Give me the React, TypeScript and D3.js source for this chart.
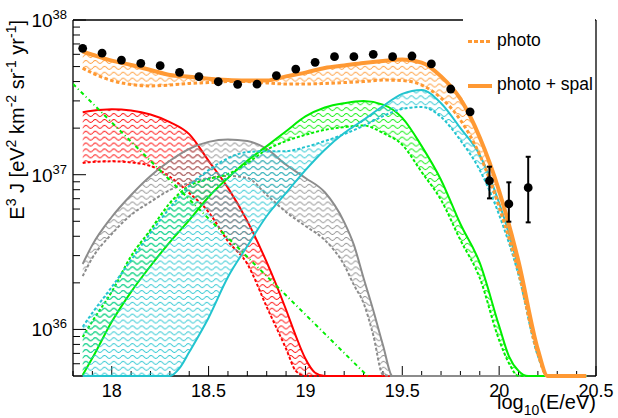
import React from "react";
import * as d3 from "d3";

// ---- measured spectrum: log10(E/eV), E^3 J and error-bar edges ----
const dataEnergy = [17.85, 17.95, 18.05, 18.15, 18.25, 18.35, 18.45, 18.55, 18.65, 18.75, 18.85, 18.95,
  19.05, 19.15, 19.25, 19.35, 19.45, 19.55, 19.65, 19.75, 19.85, 19.95, 20.05, 20.15];
const dataFlux = [6.56e37, 6.10e37, 5.51e37, 5.25e37, 5.07e37, 4.59e37, 4.31e37, 3.99e37, 3.84e37, 3.85e37,
  4.37e37, 4.82e37, 5.33e37, 5.79e37, 5.79e37, 6.00e37, 5.79e37, 5.85e37, 5.20e37, 3.58e37, 2.55e37,
  9.14e36, 6.47e36, 8.24e36];
const dataErrLow: (number | null)[] = [null, null, null, null, null, null, null, null, null, null, null, null,
  null, null, null, null, null, null, null, null, null, 7.03e36, 4.97e36, 4.92e36];
const dataErrHigh: (number | null)[] = [null, null, null, null, null, null, null, null, null, null, null, null,
  null, null, null, null, null, null, null, null, null, 1.127e37, 8.93e36, 1.306e37];

// ---- red group ----
const redEnergy = [17.85, 17.9, 18.0, 18.1, 18.2, 18.3, 18.4, 18.5, 18.6, 18.7, 18.8, 18.9, 18.95, 19.0, 19.05, 19.1, 19.5];
const redPhotoSpal = [2.53e37, 2.59e37, 2.65e37, 2.60e37, 2.45e37, 2.19e37, 1.83e37, 1.23e37, 8.22e36, 5.01e36,
  2.72e36, 1.34e36, 9.1e35, 6.46e35, 5.25e35, 3.98e35, 1e34];
const redPhoto = [1.19e37, 1.21e37, 1.22e37, 1.20e37, 1.14e37, 9.70e36, 7.62e36, 5.74e36, 3.72e36, 2.65e36,
  1.40e36, 7.50e35, 5.4e35, 4.0e35, 3.0e35, 2.0e35, 1e34];

// ---- gray group ----
const grayEnergy = [17.85, 17.9, 18.0, 18.1, 18.2, 18.3, 18.4, 18.5, 18.6, 18.7, 18.8, 18.9, 19.0, 19.1, 19.2,
  19.25, 19.3, 19.35, 19.4, 19.45, 19.5, 20.45];
const grayPhotoSpal = [2.65e36, 3.52e36, 5.33e36, 7.40e36, 9.82e36, 1.23e37, 1.47e37, 1.63e37, 1.69e37, 1.65e37,
  1.47e37, 1.16e37, 9.53e36, 7.7e36, 4.94e36, 3.52e36, 2.15e36, 1.33e36, 7.94e35, 5.0e35, 3e35, 1e34];
const grayPhoto = [2.21e36, 2.90e36, 4.14e36, 5.50e36, 6.67e36, 7.96e36, 8.84e36, 9.53e36, 9.82e36, 9.53e36,
  7.40e36, 5.74e36, 4.66e36, 3.78e36, 2.61e36, 1.94e36, 1.48e36, 9.2e35, 5.1e35, 3e35, 2e35, 1e34];

// ---- green group ----
const greenEnergy = [17.85, 17.9, 18.0, 18.1, 18.2, 18.3, 18.4, 18.5, 18.6, 18.7, 18.8, 18.9, 19.0, 19.1, 19.2,
  19.3, 19.4, 19.5, 19.6, 19.7, 19.8, 19.9, 20.0, 20.05, 20.1, 20.15, 20.45];
const greenPhotoSpal = [5.07e35, 6.53e35, 1.12e36, 1.75e36, 2.57e36, 3.67e36, 5.09e36, 7.18e36, 9.53e36, 1.23e37,
  1.53e37, 1.91e37, 2.38e37, 2.72e37, 2.90e37, 2.99e37, 2.84e37, 2.33e37, 1.53e37, 9.25e36, 4.80e36, 2.69e36,
  1.05e36, 6.73e35, 5.4e35, 4.0e35, 1e34];
const greenPhoto = [8.93e35, 1.13e36, 1.75e36, 2.98e36, 4.40e36, 6.56e36, 8.45e36, 9.38e36, 1.01e37, 1.19e37,
  1.45e37, 1.65e37, 1.81e37, 1.95e37, 2.03e37, 2.08e37, 1.86e37, 1.56e37, 1.04e37, 6.86e36, 3.78e36, 2.15e36,
  8.53e35, 6.07e35, 4.47e35, 3e35, 1e34];

// ---- cyan group ----
const cyanEnergy = [17.85, 17.9, 18.0, 18.1, 18.2, 18.3, 18.35, 18.4, 18.5, 18.6, 18.7, 18.8, 18.9, 19.0, 19.1,
  19.2, 19.3, 19.4, 19.5, 19.6, 19.7, 19.8, 19.9, 20.0, 20.1, 20.2, 20.25, 20.3, 20.45];
const cyanPhotoSpal = [1e35, 1e35, 1.2e35, 1.6e35, 2.5e35, 4.6e35, 5.62e35, 7.14e35, 1.19e36, 2.18e36, 3.46e36,
  5.41e36, 7.62e36, 1.07e37, 1.45e37, 1.86e37, 2.26e37, 2.78e37, 3.33e37, 3.53e37, 2.90e37, 2.00e37, 1.34e37,
  6.56e36, 2.49e36, 7.36e35, 4.7e35, 2.5e35, 1e34];
const cyanPhoto = [1.04e36, 1.28e36, 1.88e36, 2.81e36, 4.20e36, 6.10e36, 7.2e36, 8.45e36, 1.07e37, 1.28e37, 1.40e37,
  1.42e37, 1.42e37, 1.51e37, 1.65e37, 1.83e37, 2.07e37, 2.39e37, 2.66e37, 2.74e37, 2.36e37, 1.67e37, 1.07e37,
  5.50e36, 2.25e36, 6.73e35, 4.0e35, 2.5e35, 1e34];

// ---- total ----
const totalEnergy = [17.85, 17.9, 18.0, 18.1, 18.2, 18.3, 18.4, 18.5, 18.6, 18.7, 18.8, 18.9, 19.0, 19.1, 19.2,
  19.3, 19.4, 19.5, 19.6, 19.7, 19.8, 19.9, 20.0, 20.1, 20.2, 20.25, 20.45];
const totalPhotoSpal = [6.24e37, 5.96e37, 5.46e37, 5.12e37, 4.75e37, 4.41e37, 4.29e37, 4.17e37, 4.10e37, 4.07e37,
  4.06e37, 4.32e37, 4.57e37, 4.90e37, 5.08e37, 5.27e37, 5.43e37, 5.56e37, 5.31e37, 4.32e37, 3.09e37, 1.74e37,
  7.85e36, 2.75e36, 7.41e35, 4.0e35, 1e34];
const totalPhoto = [4.88e37, 4.54e37, 4.06e37, 3.83e37, 3.75e37, 3.80e37, 3.89e37, 3.94e37, 4.00e37, 4.00e37,
  3.92e37, 3.86e37, 3.86e37, 3.89e37, 3.94e37, 4.00e37, 4.09e37, 4.06e37, 3.80e37, 3.13e37, 2.26e37, 1.34e37,
  6.18e36, 2.35e36, 6.93e35, 4.0e35, 1e34];

// ---- power-law component (dash-dotted) ----
const powerLawEnergy = [17.8, 18.5, 19.32];
const powerLawFlux = [3.86e37, 5.21e36, 5.0e35];

// ---- axes ----
const xMajorTicks = [18, 18.5, 19, 19.5, 20, 20.5];
const xTickLabels = ["18", "18.5", "19", "19.5", "20", "20.5"];
const yDecades = [36, 37, 38];

const legendLabels = ["photo", "photo + spal"];

// y title pieces: [text, superscript]
const yTitleParts: [string, string][] = [
  ["E", "3"],
  [" J [eV", "2"],
  [" km", "-2"],
  [" sr", "-1"],
  [" yr", "-1"],
  ["]", ""],
];

const FONT = "'Liberation Sans', Arial, Helvetica, sans-serif";
const W = 618;
const H = 418;
const FL = 73, FR = 596, FT = 20, FB = 376;
const Y_MIN = 5e35, Y_MAX = 1e38;

const x = d3.scaleLinear().domain([17.8, 20.5]).range([FL, FR]);
const y = d3.scaleLog().domain([Y_MIN, Y_MAX]).range([FB, FT]);
const clampY = (v: number) => y(Math.min(Math.max(v, Y_MIN), Y_MAX));

type Pt = { e: number; v: number };
const toPts = (es: number[], vs: number[]): Pt[] => es.map((e, i) => ({ e, v: vs[i] }));

const line = d3.line<Pt>().x((d) => x(d.e)).y((d) => clampY(d.v)).curve(d3.curveMonotoneX);

const bands = [
  { id: "red", color: "#ff0000", energy: redEnergy, hi: redPhotoSpal, lo: redPhoto, w: 2, dash: "3 2" },
  { id: "gray", color: "#8c8c8c", energy: grayEnergy, hi: grayPhotoSpal, lo: grayPhoto, w: 2, dash: "3 2" },
  { id: "green", color: "#00ee00", energy: greenEnergy, hi: greenPhotoSpal, lo: greenPhoto, w: 2, dash: "3 2" },
  { id: "cyan", color: "#22c4cf", energy: cyanEnergy, hi: cyanPhotoSpal, lo: cyanPhoto, w: 2, dash: "3 2" },
  { id: "orange", color: "#ff9933", energy: totalEnergy, hi: totalPhotoSpal, lo: totalPhoto, w: 4, dash: "3.5 2.5" },
];

function bandArea(es: number[], hi: number[], lo: number[]) {
  const rows = es.map((e, i) => ({ e, hi: hi[i], lo: lo[i] }));
  return d3
    .area<{ e: number; hi: number; lo: number }>()
    .x((d) => x(d.e))
    .y0((d) => clampY(d.lo))
    .y1((d) => clampY(d.hi))
    .curve(d3.curveMonotoneX)(rows);
}

export default function App() {
  const xMinor = d3.range(17.8, 20.5001, 0.1).map((v) => Math.round(v * 10) / 10);
  const yMinor: number[] = [];
  for (let d = 35; d <= 37; d++) for (let m = 2; m <= 9; m++) {
    const v = m * Math.pow(10, d);
    if (v >= Y_MIN && v <= Y_MAX) yMinor.push(v);
  }

  // rotated y title as a flat list of tspans (superscripts raised by 8px)
  const titleSpans: React.ReactNode[] = [];
  let pendingDrop = 0;
  yTitleParts.forEach(([t, sup], i) => {
    titleSpans.push(<tspan key={`t${i}`} dy={pendingDrop} fontSize={20}>{t}</tspan>);
    pendingDrop = 0;
    if (sup) {
      titleSpans.push(<tspan key={`s${i}`} dy={-8} fontSize={14}>{sup}</tspan>);
      pendingDrop = 8;
    }
  });

  return (
    <svg width={W} height={H} viewBox={`0 0 ${W} ${H}`}
      style={{ position: "absolute", left: 0, top: 0, background: "#fff" }} fontFamily={FONT}>
      <defs>
        {bands.map((b) => (
          <pattern key={b.id} id={`wave-${b.id}`} patternUnits="userSpaceOnUse" width={9.3} height={5.9}>
            <path d="M0,2.95 C1.55,1.1 3.1,1.1 4.65,2.95 S7.75,4.8 9.3,2.95" fill="none" stroke={b.color} strokeWidth={1} />
          </pattern>
        ))}
        <clipPath id="frame-clip">
          <rect x={FL} y={FT} width={FR - FL} height={FB - FT + 2} />
        </clipPath>
      </defs>

      <rect x={0} y={0} width={W} height={H} fill="#fff" />

      {/* frame */}
      <g stroke="#000" strokeWidth={1.3} fill="none">
        <line x1={FL} y1={FT} x2={FL} y2={FB} />
        <line x1={FL} y1={FB} x2={FR} y2={FB} />
        <line x1={FL} y1={FT} x2={FR} y2={FT} />
        <line x1={FR} y1={FT} x2={FR} y2={FB} />
      </g>

      {/* x ticks */}
      <g stroke="#000" strokeWidth={1}>
        {xMinor.map((v) => {
          const major = xMajorTicks.some((t) => Math.abs(t - v) < 1e-6);
          return <line key={v} x1={x(v)} x2={x(v)} y1={FB} y2={FB - (major ? 10 : 5)} />;
        })}
      </g>
      {/* y ticks */}
      <g stroke="#000" strokeWidth={1}>
        {yDecades.map((d) => (
          <line key={d} x1={FL} x2={FL + 13} y1={y(Math.pow(10, d))} y2={y(Math.pow(10, d))} />
        ))}
        {yMinor.map((v) => (
          <line key={v} x1={FL} x2={FL + 7} y1={y(v)} y2={y(v)} />
        ))}
      </g>

      {/* bands */}
      <g clipPath="url(#frame-clip)">
        {bands.map((b) => (
          <g key={b.id}>
            <path d={bandArea(b.energy, b.hi, b.lo) || ""} fill={`url(#wave-${b.id})`} stroke="none" />
            <path d={line(toPts(b.energy, b.lo)) || ""} fill="none" stroke={b.color}
              strokeWidth={b.id === "orange" ? 3 : 2} strokeDasharray={b.dash} />
            <path d={line(toPts(b.energy, b.hi)) || ""} fill="none" stroke={b.color} strokeWidth={b.w} />
          </g>
        ))}
        <path d={line(toPts(powerLawEnergy, powerLawFlux)) || ""} fill="none" stroke="#00ee00"
          strokeWidth={2} strokeDasharray="4 3 1 3" />
      </g>

      {/* data points */}
      <g>
        {dataEnergy.map((e, i) => {
          const lo = dataErrLow[i];
          const hi = dataErrHigh[i];
          const cx = x(e);
          return (
            <g key={e}>
              {lo !== null && hi !== null && (
                <g stroke="#000" strokeWidth={2}>
                  <line x1={cx} x2={cx} y1={y(lo)} y2={y(hi)} />
                  <line x1={cx - 2.5} x2={cx + 2.5} y1={y(lo)} y2={y(lo)} />
                  <line x1={cx - 2.5} x2={cx + 2.5} y1={y(hi)} y2={y(hi)} />
                </g>
              )}
              <circle cx={cx} cy={y(dataFlux[i])} r={4.4} fill="#000" />
            </g>
          );
        })}
      </g>

      {/* legend */}
      <rect x={463} y={8} width={132} height={92} fill="#fff" />
      <line x1={468} x2={492} y1={41.5} y2={41.5} stroke="#ff9933" strokeWidth={3} strokeDasharray="4 2" />
      <text x={497} y={46} fontSize={17.5} fill="#000">{legendLabels[0]}</text>
      <line x1={468} x2={492} y1={86} y2={86} stroke="#ff9933" strokeWidth={4} />
      <text x={497} y={90} fontSize={17.5} fill="#000">{legendLabels[1]}</text>

      {/* x tick labels */}
      {xMajorTicks.map((t, i) => (
        <text key={t} x={x(t)} y={397} textAnchor="middle" fontSize={18} fill="#000">{xTickLabels[i]}</text>
      ))}
      {/* y tick labels */}
      {yDecades.map((d) => (
        <text key={d} x={67} y={y(Math.pow(10, d)) + 7} textAnchor="end" fontSize={19} fill="#000">
          10<tspan dy={-8} fontSize={13}>{String(d)}</tspan>
        </text>
      ))}

      {/* axis titles */}
      <text x={FR} y={409} textAnchor="end" fontSize={20} fill="#000">
        log<tspan dy={6} fontSize={14}>10</tspan><tspan dy={-6} fontSize={20}>(E/eV)</tspan>
      </text>
      <text transform={`translate(24, ${FT}) rotate(-90)`} textAnchor="end" fontSize={20} fill="#000">
        {titleSpans}
      </text>
    </svg>
  );
}
